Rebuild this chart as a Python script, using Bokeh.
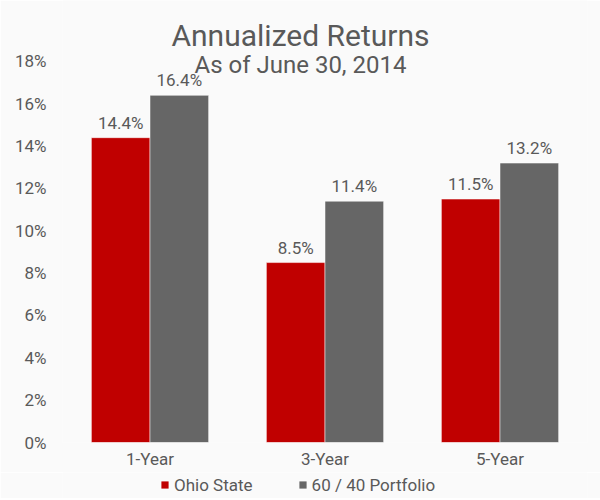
from bokeh.plotting import figure
from bokeh.layouts import column
from bokeh.models import (ColumnDataSource, Legend, LegendItem, Label,
                          PrintfTickFormatter, FixedTicker, Range1d, FactorRange)
from bokeh.transform import dodge
from bokeh.core.properties import value
from bokeh.embed import file_html
from bokeh.resources import INLINE

# ---- data ----
categories = ["1-Year", "3-Year", "5-Year"]
ohio_state = [14.4, 8.5, 11.5]
portfolio_60_40 = [16.4, 11.4, 13.2]
series_names = ["Ohio State", "60 / 40 Portfolio"]
y_ticks = [0, 2, 4, 6, 8, 10, 12, 14, 16, 18]
title_text = "Annualized Returns"
subtitle_text = "As of June 30, 2014"

# ---- styles ----
RED = "#C00000"
GRAY = "#666666"
TEXT = "#595959"
BG = "#FAFAFA"
FONT = "Roboto"

src = ColumnDataSource(dict(
    cat=categories,
    ohio=ohio_state,
    port=portfolio_60_40,
    ohio_lbl=[f"{v:.1f}%" for v in ohio_state],
    port_lbl=[f"{v:.1f}%" for v in portfolio_60_40],
))

off = 0.1675
bw = 0.335
bar_style = [("ohio", RED, -off), ("port", GRAY, off)]

# ---- main chart ----
p = figure(x_range=FactorRange(*categories), y_range=Range1d(0, 20.88),
           frame_width=525, frame_height=442,
           min_border_left=62, min_border_right=13,
           min_border_top=0, min_border_bottom=30,
           output_backend="svg", toolbar_location=None,
           background_fill_color=BG, border_fill_color=BG,
           outline_line_color=None)

for col, color, d in bar_style:
    p.vbar(x=dodge("cat", d, range=p.x_range), top=col, width=bw,
           source=src, fill_color=color, line_color="#FFFFFF",
           line_alpha=0.5, line_width=1)
    p.text(x=dodge("cat", d, range=p.x_range), y=col, text=col + "_lbl",
           source=src, text_align="center", text_baseline="bottom",
           y_offset=-5, text_font=value(FONT), text_font_size="17px",
           text_color=TEXT)

p.xgrid.grid_line_color = None
p.ygrid.grid_line_color = None

p.yaxis.ticker = FixedTicker(ticks=y_ticks)
p.yaxis.formatter = PrintfTickFormatter(format="%d%%")
for ax in (p.xaxis[0], p.yaxis[0]):
    ax.axis_line_color = None
    ax.major_tick_line_color = None
    ax.minor_tick_line_color = None
    ax.major_tick_out = 0
    ax.major_tick_in = 0
    ax.minor_tick_out = 0
    ax.minor_tick_in = 0
    ax.major_label_text_font = FONT
    ax.major_label_text_font_size = "17px"
    ax.major_label_text_color = TEXT
p.yaxis.major_label_standoff = 16
p.xaxis.major_label_standoff = 6

p.add_layout(Label(x=1.36, y=19.23, text=title_text, text_align="center",
                   text_baseline="alphabetic", text_font=FONT,
                   text_font_size="30px", text_color=TEXT))
p.add_layout(Label(x=1.36, y=17.81, text=subtitle_text, text_align="center",
                   text_baseline="alphabetic", text_font=FONT,
                   text_font_size="24px", text_color=TEXT))

# ---- legend strip ----
lg = figure(x_range=FactorRange(*categories), y_range=Range1d(-2, -1),
            width=600, height=26, min_border=0,
            x_axis_location=None, y_axis_location=None,
            output_backend="svg", toolbar_location=None,
            background_fill_color=BG, border_fill_color=BG,
            outline_line_color=None)
lg.xgrid.grid_line_color = None
lg.ygrid.grid_line_color = None
legend_renderers = []
for col, color, d in bar_style:
    legend_renderers.append(
        lg.vbar(x=dodge("cat", d, range=lg.x_range), top=col, width=bw,
                source=src, fill_color=color, line_color=None,
                visible=False))

legend = Legend(items=[LegendItem(label=name, renderers=[r])
                       for name, r in zip(series_names, legend_renderers)],
                orientation="horizontal", location=(98, 3.5),
                glyph_width=9, glyph_height=9, label_standoff=5, spacing=45,
                padding=0, margin=0, label_height=20,
                inactive_fill_alpha=0,
                background_fill_alpha=0, border_line_color=None,
                label_text_font=FONT, label_text_font_size="17px",
                label_text_color=TEXT)
lg.add_layout(legend)

layout = column(p, lg, spacing=0)
open("out.html", "w").write(file_html(layout, INLINE))
